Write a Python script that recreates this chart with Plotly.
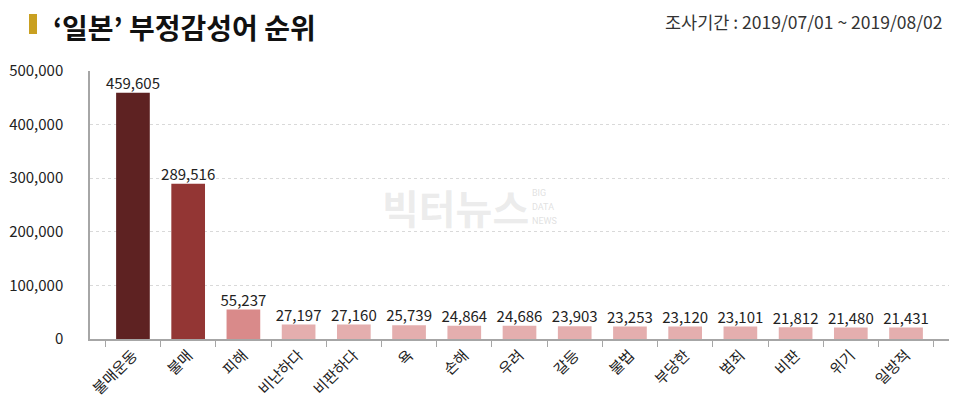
import plotly.graph_objects as go

categories = ["불매운동", "불매", "피해", "비난하다", "비판하다", "욕", "손해", "우려", "갈등", "불법", "부당한", "범죄", "비판", "위기", "일방적"]
values = [459605, 289516, 55237, 27197, 27160, 25739, 24864, 24686, 23903, 23253, 23120, 23101, 21812, 21480, 21431]
bar_colors = ["#5E2222", "#933634", "#D98A8A"] + ["#E4AEAE"] * 12
y_ticks = [0, 100000, 200000, 300000, 400000, 500000]

FONT = "Noto Sans CJK KR"
OFF = 8  # browser body margin
W, H = 960 - OFF, 413 - OFF
# plot area in page pixels: x 90..949, y 71..339
L, R, T, B = 90 - OFF, 960 - 949, 71 - OFF, 413 - 339
PW, PH = W - L - R, H - T - B

def px(x):
    return (x - OFF - L) / PW

def py(y):
    return (H - B - (y - OFF)) / PH

fig = go.Figure()
fig.add_trace(go.Bar(
    x=categories, y=values,
    marker=dict(color=bar_colors, line=dict(width=0)),
    hoverinfo="skip",
))
fig.add_trace(go.Scatter(
    x=categories, y=values, mode="text",
    text=[f"{v:,}" for v in values], textposition="top center",
    textfont=dict(family=FONT, size=15, color="#222222"),
    cliponaxis=False, hoverinfo="skip",
))

fig.update_layout(
    width=W, height=H,
    margin=dict(l=L, r=R, t=T, b=B),
    paper_bgcolor="white", plot_bgcolor="white",
    bargap=0.39,
    showlegend=False,
    font=dict(family=FONT, color="#222222"),
    xaxis=dict(
        tickangle=-45, tickfont=dict(family=FONT, size=15, color="#222222"),
        showline=True, linecolor="#A6A6A6", linewidth=1.5,
        ticks="outside", tickson="boundaries", ticklen=6, tickcolor="#A6A6A6",
        showgrid=False, automargin=False,
    ),
    yaxis=dict(
        range=[0, 500000], tickvals=y_ticks, tickformat=",",
        tickfont=dict(family=FONT, size=15, color="#222222"),
        showline=True, linecolor="#A6A6A6", linewidth=1.5,
        showgrid=True, gridcolor="#D9D9D9", griddash="dot", gridwidth=1,
        ticks="outside", ticklen=4, tickcolor="white",
        ticklabelstandoff=18, zeroline=False, automargin=False,
    ),
)

# title marker
fig.add_shape(type="rect", xref="paper", yref="paper",
              x0=px(29), x1=px(37), y0=py(34), y1=py(14),
              fillcolor="#C9A021", line=dict(width=0))
fig.add_annotation(xref="paper", yref="paper", x=px(52), y=py(27),
                   text="<b>‘일본’ 부정감성어 순위</b>", showarrow=False,
                   xanchor="left", yanchor="middle", borderpad=0,
                   font=dict(family=FONT, size=28, color="#111111"))
fig.add_annotation(xref="paper", yref="paper", x=px(945), y=py(21),
                   text="조사기간 : 2019/07/01 ~ 2019/08/02", showarrow=False,
                   xanchor="right", yanchor="middle",
                   font=dict(family=FONT, size=17.5, color="#333333"))
# watermark
fig.add_annotation(xref="paper", yref="paper", x=px(455), y=py(207),
                   text="<b>빅터뉴스</b>", showarrow=False, xanchor="center", yanchor="middle",
                   font=dict(family=FONT, size=40, color="rgba(200,200,200,0.35)"))
for word, yy in [("BIG", 193), ("DATA", 207), ("NEWS", 221)]:
    fig.add_annotation(xref="paper", yref="paper", x=px(531), y=py(yy),
                       text=word, showarrow=False, xanchor="left", yanchor="middle",
                       borderpad=0,
                       font=dict(family="Roboto", size=9, color="rgba(200,200,200,0.55)"))

fig.write_html("out.html")
